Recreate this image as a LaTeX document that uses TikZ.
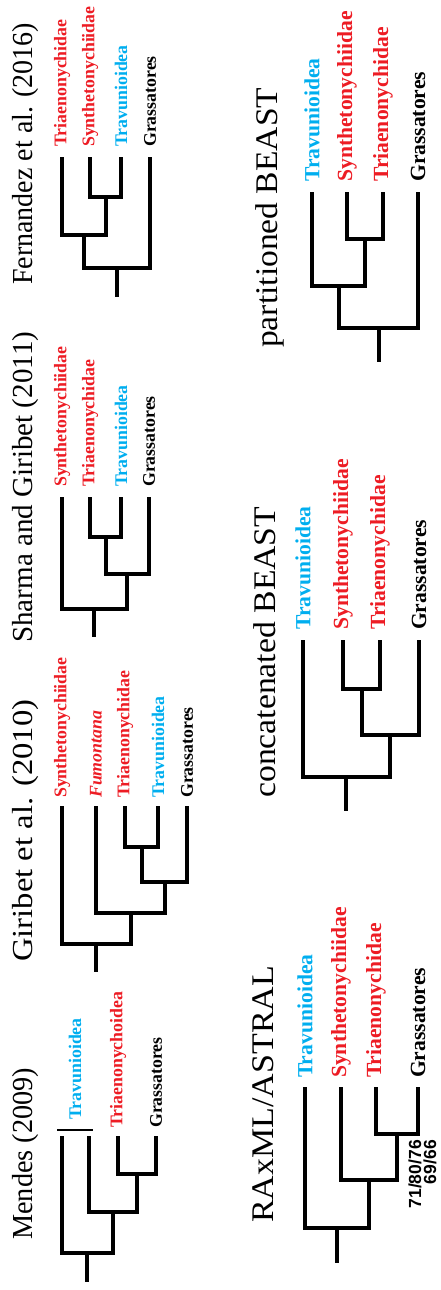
\documentclass[tikz,border=0pt]{standalone}
\usepackage{fontspec}
\usepackage{graphicx}
\setmainfont{Liberation Serif}
\newfontfamily\supfont{Liberation Sans}
\definecolor{tred}{HTML}{ED1C24}
\definecolor{tblue}{HTML}{00AEEF}
% stretch a title to a given length, keeping its height
\newcommand\ttl[2]{\resizebox{#1pt}{\height}{#2}}
\tikzset{
  br/.style={line width=4.6pt, line join=miter, line cap=butt},
  ttlnode/.style={rotate=90, anchor=base west, inner sep=0pt},
  lab/.style={rotate=90, anchor=west, inner sep=0pt, font=\bfseries\fontsize{17.8}{18}\selectfont},
  labR/.style={rotate=90, anchor=west, inner sep=0pt, font=\bfseries\fontsize{21.6}{22}\selectfont},
}
\begin{document}
\begin{tikzpicture}[x=1pt, y=-1pt]
\useasboundingbox (0,0) rectangle (441,1290);

% ---------- titles ----------
\node[ttlnode, font=\fontsize{29}{29}\selectfont] (tF) at (33,285) {\ttl{262}{Fernandez et al. (2016)}};
\node[ttlnode, font=\fontsize{29}{29}\selectfont] (tS) at (33,643) {\ttl{311}{Sharma and Giribet (2011)}};
\node[ttlnode, font=\fontsize{29}{29}\selectfont] (tG) at (33,962) {\ttl{262}{Giribet et al. (2010)}};
\node[ttlnode, font=\fontsize{29}{29}\selectfont] (tM) at (33,1240) {\ttl{172}{Mendes (2009)}};
\node[ttlnode, font=\fontsize{31.5}{31.5}\selectfont] (tP) at (277,348) {\ttl{260}{partitioned BEAST}};
\node[ttlnode, font=\fontsize{31.5}{31.5}\selectfont] (tC) at (275,798) {\ttl{291}{concatenated BEAST}};
\node[ttlnode, font=\fontsize{31.5}{31.5}\selectfont] (tR) at (273,1223) {\ttl{257}{RAxML/ASTRAL}};

% ---------- Fernandez et al. (2016) ----------
\coordinate (f1) at (62,157);  \coordinate (f2) at (90,157);
\coordinate (f3) at (121,157); \coordinate (f4) at (150,157);
\coordinate (f23) at (106,197); \coordinate (f123) at (84,235);
\coordinate (froot) at (117,268); \coordinate (fbase) at (117,297);
\draw[br] (f2) |- (f23) -| (f3);
\draw[br] (f1) |- (f123) -| (f23);
\draw[br] (f123) |- (froot) -| (f4);
\draw[br] (froot) -- (fbase);
\node[lab, text=tred]  (fl1) at (62,147)  {Triaenonychidae};
\node[lab, text=tred]  (fl2) at (90,147)  {Synthetonychiidae};
\node[lab, text=tblue] (fl3) at (121,147) {Travunioidea};
\node[lab]             (fl4) at (150,147) {Grassatores};

% ---------- Sharma and Giribet (2011) ----------
\coordinate (s1) at (62,497);  \coordinate (s2) at (90,497);
\coordinate (s3) at (121,497); \coordinate (s4) at (149,497);
\coordinate (s23) at (106,537); \coordinate (s234) at (127,574);
\coordinate (sroot) at (94,609); \coordinate (sbase) at (94,637);
\draw[br] (s2) |- (s23) -| (s3);
\draw[br] (s23) |- (s234) -| (s4);
\draw[br] (s1) |- (sroot) -| (s234);
\draw[br] (sroot) -- (sbase);
\node[lab, text=tred]  (sl1) at (62,487)  {Synthetonychiidae};
\node[lab, text=tred]  (sl2) at (90,487)  {Triaenonychidae};
\node[lab, text=tblue] (sl3) at (121,487) {Travunioidea};
\node[lab]             (sl4) at (149,487) {Grassatores};

% ---------- Giribet et al. (2010) ----------
\coordinate (g1) at (62,806);  \coordinate (g2) at (96,806);
\coordinate (g3) at (125,806); \coordinate (g4) at (158,806);
\coordinate (g5) at (187,806);
\coordinate (g34) at (142,847); \coordinate (g345) at (165,882);
\coordinate (g2345) at (131,913); \coordinate (groot) at (96,944);
\coordinate (gbase) at (96,972);
\draw[br] (g3) |- (g34) -| (g4);
\draw[br] (g34) |- (g345) -| (g5);
\draw[br] (g2) |- (g2345) -| (g345);
\draw[br] (g1) |- (groot) -| (g2345);
\draw[br] (groot) -- (gbase);
\node[lab, text=tred]  (gl1) at (62,798)  {Synthetonychiidae};
\node[lab, text=tred]  (gl2) at (96,798)  {\itshape Fumontana};
\node[lab, text=tred]  (gl3) at (125,798) {Triaenonychidae};
\node[lab, text=tblue] (gl4) at (158,798) {Travunioidea};
\node[lab]             (gl5) at (187,798) {Grassatores};

% ---------- Mendes (2009) ----------
\coordinate (m1) at (62,1136);  \coordinate (m2) at (89,1136);
\coordinate (m3) at (118,1136); \coordinate (m4) at (156,1136);
\coordinate (m34) at (137,1174); \coordinate (m234) at (113,1212);
\coordinate (mroot) at (87,1253); \coordinate (mbase) at (87,1282);
\draw[br] (m3) |- (m34) -| (m4);
\draw[br] (m2) |- (m234) -| (m34);
\draw[br] (m1) |- (mroot) -| (m234);
\draw[br] (mroot) -- (mbase);
\coordinate (mbrA) at (57,1130); \coordinate (mbrB) at (93,1130);
\draw[line width=1.3pt] (mbrA) -- (mbrB);
\node[lab, text=tblue] (ml1) at (75,1120)  {Travunioidea};
\node[lab, text=tred]  (ml3) at (118,1128) {Triaenonychoidea};
\node[lab]             (ml4) at (156,1128) {Grassatores};

% ---------- partitioned BEAST ----------
\coordinate (p1) at (312,192); \coordinate (p2) at (347,192);
\coordinate (p3) at (383,192); \coordinate (p4) at (418,192);
\coordinate (p23) at (365,239); \coordinate (p123) at (339,286);
\coordinate (proot) at (379,328); \coordinate (pbase) at (379,362);
\draw[br] (p2) |- (p23) -| (p3);
\draw[br] (p1) |- (p123) -| (p23);
\draw[br] (p123) |- (proot) -| (p4);
\draw[br] (proot) -- (pbase);
\node[labR, text=tblue] (pl1) at (312,182) {Travunioidea};
\node[labR, text=tred]  (pl2) at (347,182) {Synthetonychiidae};
\node[labR, text=tred]  (pl3) at (383,182) {Triaenonychidae};
\node[labR]             (pl4) at (418,182) {Grassatores};

% ---------- concatenated BEAST ----------
\coordinate (c1) at (303,640); \coordinate (c2) at (343,640);
\coordinate (c3) at (380,640); \coordinate (c4) at (419,640);
\coordinate (c23) at (362,689); \coordinate (c234) at (390,735);
\coordinate (croot) at (346,777); \coordinate (cbase) at (346,811);
\draw[br] (c2) |- (c23) -| (c3);
\draw[br] (c23) |- (c234) -| (c4);
\draw[br] (c1) |- (croot) -| (c234);
\draw[br] (croot) -- (cbase);
\node[labR, text=tblue] (cl1) at (303,630) {Travunioidea};
\node[labR, text=tred]  (cl2) at (343,630) {Synthetonychiidae};
\node[labR, text=tred]  (cl3) at (380,630) {Triaenonychidae};
\node[labR]             (cl4) at (419,630) {Grassatores};

% ---------- RAxML/ASTRAL ----------
\coordinate (r1) at (305,1087); \coordinate (r2) at (341,1087);
\coordinate (r3) at (376,1087); \coordinate (r4) at (418,1087);
\coordinate (r34) at (397,1134); \coordinate (r234) at (369,1180);
\coordinate (rroot) at (337,1228); \coordinate (rbase) at (337,1263);
\draw[br] (r3) |- (r34) -| (r4);
\draw[br] (r2) |- (r234) -| (r34);
\draw[br] (r1) |- (rroot) -| (r234);
\draw[br] (rroot) -- (rbase);
\node[labR, text=tblue] (rl1) at (305,1078) {Travunioidea};
\node[labR, text=tred]  (rl2) at (341,1078) {Synthetonychiidae};
\node[labR, text=tred]  (rl3) at (376,1078) {Triaenonychidae};
\node[labR]             (rl4) at (418,1078) {Grassatores};
\node[rotate=90, anchor=east, inner sep=0pt, align=right,
      font=\supfont\bfseries\fontsize{17.5}{15}\selectfont] (rsup) at (422.5,1140) {71/80/76\\69/66};
\end{tikzpicture}
\end{document}
